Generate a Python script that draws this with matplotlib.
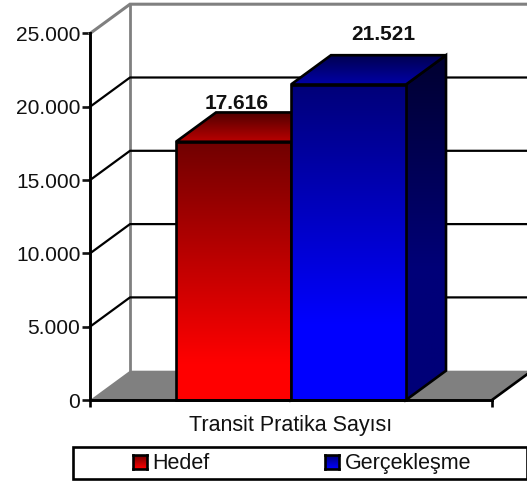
#!/usr/bin/env python3
"""Pseudo-3D bar chart: Transit Pratika Sayisi, target vs actual."""

import matplotlib
matplotlib.use("Agg")
import matplotlib.pyplot as plt
import numpy as np
from matplotlib.colors import LinearSegmentedColormap
from matplotlib.patches import Polygon, Rectangle

plt.rcParams["font.family"] = ["Liberation Sans", "DejaVu Sans"]

# data
series_names = ["Hedef", "Gerçekleşme"]
series_values = [17616, 21521]
value_labels = ["17.616", "21.521"]
category = "Transit Pratika Sayısı"
y_ticks = [0, 5000, 10000, 15000, 20000, 25000]
y_tick_labels = ["0", "5.000", "10.000", "15.000", "20.000", "25.000"]

# colours: (dark, bright) for front, top and side faces
front_colors = [("#700000", "#ff0000"), ("#000078", "#0000ff")]
top_colors = [("#500000", "#bb0000"), ("#000050", "#0000a8")]
side_colors = [("#2a0000", "#780000"), ("#000030", "#000078")]
front_stop = [0.86, 0.76]  # where the gradient reaches its bright colour
side_stop = 0.62

W, H = 527, 486
LW = 1.9
GRID_LW = 1.6
DEPTH_X = 40 / 402  # in axes x units
DEPTH_Y = 29.3 / 366.5 * 25000  # in value units
BAR_W = 115 / 402
BAR_START = 86 / 402
GRAY = "#808080"
# value label offset from the bar's front top centre, in pixels
label_dx = [3.5, 34.5]
label_dy = [33, 44.5]

fig = plt.figure(figsize=(W / 100, H / 100), dpi=100, facecolor="white")
ax = fig.add_axes([90 / W, (H - 400) / H, 402 / W, 366.5 / H])


def gradient_face(ax, pts, dark, bright, zorder, stop=1.0):
    """Polygon filled with a vertical gradient, dark on top."""
    pts = np.array(pts)
    cmap = LinearSegmentedColormap.from_list("g", [(0, dark), (stop, bright), (1, bright)])
    grad = np.linspace(0, 1, 256).reshape(-1, 1)
    img = ax.imshow(grad, cmap=cmap, aspect="auto", origin="upper", zorder=zorder,
                    extent=[pts[:, 0].min(), pts[:, 0].max(), pts[:, 1].min(), pts[:, 1].max()])
    edge = Polygon(pts, closed=True, facecolor="none", edgecolor="black",
                   linewidth=LW, zorder=zorder + 0.1, clip_on=False, joinstyle="miter")
    ax.add_patch(edge)
    clip = Polygon(pts, closed=True, transform=ax.transData)
    img.set_clip_path(clip)


# floor and back wall
right_edge = 1.2
floor = Polygon([(0, 0), (DEPTH_X, DEPTH_Y), (1 + DEPTH_X, DEPTH_Y), (1, 0)],
                closed=True, facecolor=GRAY, edgecolor="none", zorder=1, clip_on=False)
ax.add_patch(floor)
ax.plot([0, DEPTH_X, right_edge], [25000, 25000 + DEPTH_Y, 25000 + DEPTH_Y],
        color=GRAY, lw=2.2, zorder=2, clip_on=False, solid_joinstyle="miter")
ax.plot([DEPTH_X, DEPTH_X], [DEPTH_Y, 25000 + DEPTH_Y], color=GRAY, lw=2.0, zorder=2, clip_on=False)
ax.plot([1, 1 + DEPTH_X], [0, DEPTH_Y], color="black", lw=LW, zorder=2, clip_on=False)

# gridlines with their diagonal on the side wall
for v in y_ticks[1:-1]:
    ax.plot([0, DEPTH_X, right_edge], [v, v + DEPTH_Y, v + DEPTH_Y],
            color="black", lw=GRID_LW, zorder=2, clip_on=False)

# bars
for i, val in enumerate(series_values):
    x0 = BAR_START + i * BAR_W
    x1 = x0 + BAR_W
    z = 3 + i
    gradient_face(ax, [(x1, 0), (x1 + DEPTH_X, DEPTH_Y), (x1 + DEPTH_X, val + DEPTH_Y), (x1, val)],
                  side_colors[i][0], side_colors[i][1], z, side_stop)
    gradient_face(ax, [(x0, val), (x0 + DEPTH_X, val + DEPTH_Y), (x1 + DEPTH_X, val + DEPTH_Y), (x1, val)],
                  top_colors[i][0], top_colors[i][1], z + 0.2)
    gradient_face(ax, [(x0, 0), (x0, val), (x1, val), (x1, 0)],
                  front_colors[i][0], front_colors[i][1], z + 0.4, front_stop[i])
    ax.annotate(value_labels[i], xy=(x0 + BAR_W / 2, val), xycoords="data",
                xytext=(label_dx[i] * 0.72, label_dy[i] * 0.72), textcoords="offset points",
                ha="center", va="baseline", fontsize=15, fontweight="bold", zorder=6, color="#111111")

# axes
ax.set_xlim(0, 1)
ax.set_ylim(0, 25000)
ax.patch.set_visible(False)
for s in ("top", "right"):
    ax.spines[s].set_visible(False)
for s in ("left", "bottom"):
    ax.spines[s].set_linewidth(LW + 0.2)
    ax.spines[s].set_zorder(7)
ax.set_yticks(y_ticks, y_tick_labels)
ax.set_xticks([0, 1], ["", ""])
ax.tick_params(axis="y", length=6, width=LW, labelsize=15.1, pad=1, colors="#111111")
ax.tick_params(axis="x", length=5, width=LW)
ax.set_xlabel(category, fontsize=15.5, labelpad=2, color="#111111")

# legend, built by hand to get the wide box and gradient swatches
fig.add_artist(Rectangle((73 / W, (H - 479) / H), 453.5 / W, 32 / H, transform=fig.transFigure,
                         facecolor="white", edgecolor="black", linewidth=LW, zorder=-1))
legend_swatch_x = [133, 325]
legend_text_x = [152, 345]
for i, name in enumerate(series_names):
    sw = fig.add_axes([legend_swatch_x[i] / W, (H - 469) / H, 14 / W, 14 / H])
    cmap = LinearSegmentedColormap.from_list("l", list(front_colors[i]))
    sw.imshow(np.linspace(0, 1, 64).reshape(-1, 1), cmap=cmap, aspect="auto")
    sw.set_xticks([])
    sw.set_yticks([])
    for sp in sw.spines.values():
        sp.set_linewidth(LW)
    fig.text(legend_text_x[i] / W, (H - 463) / H, name, fontsize=15.5, va="center", ha="left", color="#111111")

fig.savefig("out.png", dpi=100)
